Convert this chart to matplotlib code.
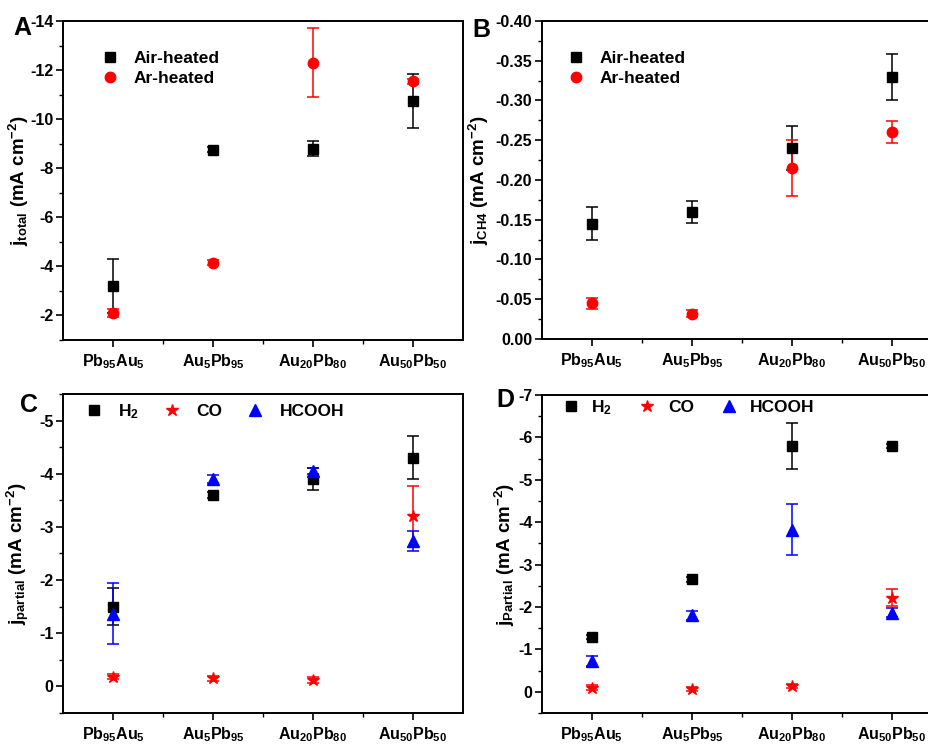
import matplotlib
matplotlib.use("Agg")
import matplotlib.pyplot as plt
from matplotlib.ticker import MultipleLocator, FixedLocator, FormatStrFormatter
from matplotlib.lines import Line2D
import numpy as np

plt.rcParams['font.family'] = ['Liberation Sans', 'DejaVu Sans']
plt.rcParams['font.weight'] = 'bold'
plt.rcParams['mathtext.default'] = 'regular'
plt.rcParams['axes.unicode_minus'] = False

categories = ['Pb$_{95}$Au$_5$', 'Au$_5$Pb$_{95}$', 'Au$_{20}$Pb$_{80}$', 'Au$_{50}$Pb$_{50}$']

# Panel A: total current density
a_air = [-3.2, -8.75, -8.8, -10.75]
a_air_err = [1.1, 0.1, 0.3, 1.1]
a_ar = [-2.1, -4.15, -12.3, -11.55]
a_ar_err = [0.15, 0.1, 1.4, 0.1]

# Panel B: CH4 partial current density
b_air = [-0.145, -0.16, -0.24, -0.33]
b_air_err = [0.021, 0.014, 0.028, 0.029]
b_ar = [-0.045, -0.032, -0.215, -0.26]
b_ar_err = [0.007, 0.004, 0.035, 0.014]

# Panel C: partial current densities
c_h2 = [-1.5, -3.6, -3.9, -4.3]
c_h2_err = [0.35, 0.05, 0.2, 0.4]
c_co = [-0.18, -0.15, -0.12, -3.2]
c_co_err = [0.05, 0.05, 0.05, 0.57]
c_hcooh = [-1.37, -3.9, -4.05, -2.73]
c_hcooh_err = [0.58, 0.08, 0.05, 0.19]

# Panel D: partial current densities
d_h2 = [-1.3, -2.65, -5.8, -5.8]
d_h2_err = [0.05, 0.05, 0.55, 0.05]
d_co = [-0.1, -0.07, -0.13, -2.22]
d_co_err = [0.05, 0.05, 0.05, 0.2]
d_hcooh = [-0.72, -1.8, -3.82, -1.87]
d_hcooh_err = [0.12, 0.1, 0.6, 0.1]

fig = plt.figure(figsize=(9.29, 7.44), dpi=100)
W = 0.4306
H = 0.4288
axA = fig.add_axes([0.0678, 0.543, W, H])
axB = fig.add_axes([0.5834, 0.5444, W, 0.4274])
axC = fig.add_axes([0.0678, 0.0417, W, H])
axD = fig.add_axes([0.5834, 0.0417, W, 0.4273])

x = np.arange(1, 5)
ms_sq = 7
ms_ci = 7.5
eb_kw = dict(linestyle='none', capsize=4, elinewidth=1.1, capthick=1.1)
TICK_FS = 11.5


def style(ax, ylim, major, minor, ylabel, label_x, fmt=None):
    ax.set_xlim(0.5, 4.5)
    ax.set_ylim(*ylim)
    ax.set_xticks(x)
    ax.set_xticklabels(categories, fontsize=TICK_FS, fontweight='bold')
    ax.xaxis.set_minor_locator(FixedLocator([1.5, 2.5, 3.5]))
    ax.yaxis.set_major_locator(MultipleLocator(major))
    ax.yaxis.set_minor_locator(MultipleLocator(minor))
    ax.tick_params(axis='both', which='major', direction='out', length=5, width=1.2,
                   labelsize=TICK_FS, top=False, right=False)
    ax.tick_params(axis='both', which='minor', direction='out', length=3, width=1.0,
                   top=False, right=False)
    ax.tick_params(axis='x', which='major', pad=4)
    ax.tick_params(axis='y', which='major', pad=2)
    if fmt:
        ax.yaxis.set_major_formatter(fmt)
    for lab in ax.get_yticklabels():
        lab.set_fontweight('bold')
    for s in ax.spines.values():
        s.set_linewidth(1.4)
    ax.set_ylabel(ylabel, fontsize=13.5, fontweight='bold')
    ax.yaxis.set_label_coords(label_x, 0.5)


def handles(specs):
    return [Line2D([], [], linestyle='none', marker=m, color=c, markersize=s, label=l)
            for m, c, s, l in specs]


# Panel A
axA.errorbar(x, a_air, yerr=a_air_err, marker='s', color='black', ms=ms_sq,
             ecolor='black', **eb_kw)
axA.errorbar(x, a_ar, yerr=a_ar_err, marker='o', color='red', ms=ms_ci,
             ecolor='red', **eb_kw)
style(axA, (-1, -14), 2, 1, r'$j_{total}$ (mA cm$^{-2}$)', -0.08)
axA.set_yticks([-2, -4, -6, -8, -10, -12, -14])
axA.legend(handles=handles([('s', 'black', ms_sq, 'Air-heated'),
                            ('o', 'red', ms_ci, 'Ar-heated')]),
           loc='upper left', bbox_to_anchor=(0.095, 0.905), frameon=False,
           fontsize=12.5, handlelength=1.0, handletextpad=0.9, labelspacing=0.28,
           borderaxespad=0, borderpad=0)

# Panel B
axB.errorbar(x, b_air, yerr=b_air_err, marker='s', color='black', ms=ms_sq,
             ecolor='black', **eb_kw)
axB.errorbar(x, b_ar, yerr=b_ar_err, marker='o', color='red', ms=ms_ci,
             ecolor='red', **eb_kw)
style(axB, (0, -0.40), 0.05, 0.025, r'$j_{CH4}$ (mA cm$^{-2}$)', -0.128,
      FormatStrFormatter('%.2f'))
axB.legend(handles=handles([('s', 'black', ms_sq, 'Air-heated'),
                            ('o', 'red', ms_ci, 'Ar-heated')]),
           loc='upper left', bbox_to_anchor=(0.0625, 0.905), frameon=False,
           fontsize=12.5, handlelength=1.0, handletextpad=0.9, labelspacing=0.28,
           borderaxespad=0, borderpad=0)

# Panel C
axC.errorbar(x, c_h2, yerr=c_h2_err, marker='s', color='black', ms=ms_sq,
             ecolor='black', **eb_kw)
axC.errorbar(x, c_co, yerr=c_co_err, marker='*', color='red', ms=9,
             ecolor='red', **eb_kw)
axC.errorbar(x, c_hcooh, yerr=c_hcooh_err, marker='^', color='blue', ms=9,
             ecolor='blue', **eb_kw)
style(axC, (0.5, -5.5), 1, 0.5, r'$j_{partial}$ (mA cm$^{-2}$)', -0.08)
axC.legend(handles=handles([('s', 'black', ms_sq, 'H$_2$'),
                            ('*', 'red', 9, 'CO'),
                            ('^', 'blue', 9, 'HCOOH')]),
           loc='upper left', bbox_to_anchor=(0.055, 0.975), frameon=False, ncol=3,
           fontsize=12.5, handlelength=1.0, handletextpad=0.9, columnspacing=1.4,
           borderaxespad=0, borderpad=0)

# Panel D
axD.errorbar(x, d_h2, yerr=d_h2_err, marker='s', color='black', ms=ms_sq,
             ecolor='black', **eb_kw)
axD.errorbar(x, d_co, yerr=d_co_err, marker='*', color='red', ms=9,
             ecolor='red', **eb_kw)
axD.errorbar(x, d_hcooh, yerr=d_hcooh_err, marker='^', color='blue', ms=9,
             ecolor='blue', **eb_kw)
style(axD, (0.5, -7), 1, 0.5, r'$j_{Partial}$ (mA cm$^{-2}$)', -0.063)
axD.legend(handles=handles([('s', 'black', ms_sq, 'H$_2$'),
                            ('*', 'red', 9, 'CO'),
                            ('^', 'blue', 9, 'HCOOH')]),
           loc='upper left', bbox_to_anchor=(0.05, 0.99), frameon=False, ncol=3,
           fontsize=12.5, handlelength=1.0, handletextpad=0.7, columnspacing=1.5,
           borderaxespad=0, borderpad=0)

# Panel letters
fig.text(0.014, 0.953, 'A', fontsize=18, fontweight='bold')
fig.text(0.509, 0.950, 'B', fontsize=18, fontweight='bold')
fig.text(0.021, 0.446, 'C', fontsize=18, fontweight='bold')
fig.text(0.534, 0.453, 'D', fontsize=18, fontweight='bold')

fig.savefig('out.png', dpi=100)
